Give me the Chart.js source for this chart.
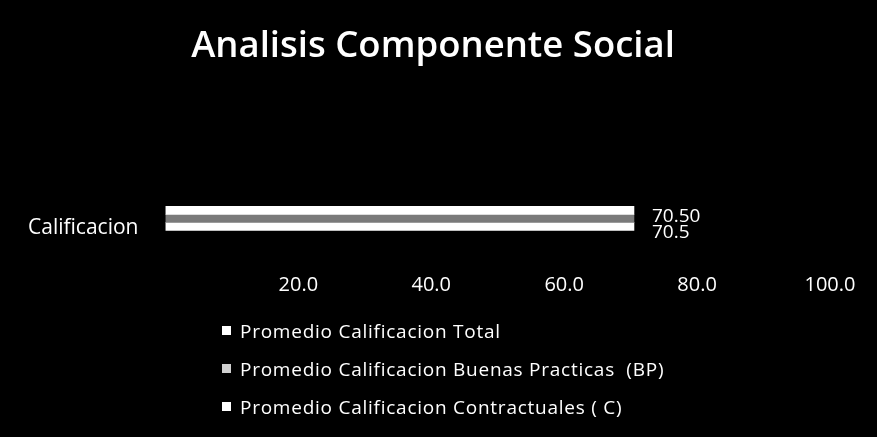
<!DOCTYPE html>
<html>
<head>
<meta charset="utf-8">
<script src="https://cdn.jsdelivr.net/npm/chart.js@4/dist/chart.umd.min.js"></script>
<style>
  html, body { margin: 0; padding: 0; background: #000; }
  #wrap { position: relative; width: 877px; height: 437px; background: #000; }
  #legend { position: absolute; left: 222px; top: 314px; font-family: 'Open Sans', sans-serif; font-size: 19px; letter-spacing: 0.75px; color: #fff; }
  #legend div { height: 38px; line-height: 34px; white-space: pre; }
  #legend span.box { display: inline-block; width: 9px; height: 9px; margin-right: 9px; vertical-align: 3px; }
</style>
</head>
<body>
<div id="wrap">
  <canvas id="chart" width="877" height="437"></canvas>
  <div id="legend"></div>
</div>
<script>
const categories = ['Calificacion']
const seriesNames = [
  'Promedio Calificacion Total',
  'Promedio Calificacion Buenas Practicas  (BP)',
  'Promedio Calificacion Contractuales ( C)'
]
const totalValues = [70.50]
const bpValues = [70.5]
const cValues = [70.5]
const valueLabels = ['70.50', '', '70.5']
const xTicks = [0, 20, 40, 60, 80, 100]

const barColors = ['#ffffff', '#7a7a7a', '#ffffff']
const legendColors = ['#ffffff', '#d0d0d0', '#ffffff']

// value text to the right of the bars
const barValues = {
  id: 'barValues',
  afterDatasetsDraw(chart) {
    const ctx = chart.ctx
    ctx.save()
    ctx.fillStyle = '#fff'
    ctx.font = '19px "Open Sans", sans-serif'
    ctx.textBaseline = 'middle'
    chart.data.datasets.forEach((ds, i) => {
      const meta = chart.getDatasetMeta(i)
      meta.data.forEach((bar) => {
        if (!valueLabels[i]) return
        ctx.fillText(valueLabels[i], bar.x + 18, bar.y + 6)
      })
    })
    ctx.restore()
  }
}

const datasets = [totalValues, bpValues, cValues].map((vals, i) => ({
  label: seriesNames[i],
  data: vals,
  backgroundColor: barColors[i],
  barThickness: 8
}))

new Chart(document.getElementById('chart'), {
  type: 'bar',
  data: { labels: categories, datasets },
  options: {
    indexAxis: 'y',
    responsive: false,
    animation: false,
    layout: { padding: { left: 1, right: 12, top: 0, bottom: 137 } },
    plugins: {
      legend: { display: false },
      tooltip: { enabled: false },
      title: {
        display: true,
        text: 'Analisis Componente Social',
        color: '#fff',
        font: { family: 'Open Sans', size: 36.5, weight: '600' },
        padding: { top: 25, bottom: 98 }
      }
    },
    scales: {
      x: {
        min: 0,
        max: 100,
        afterBuildTicks: (axis) => { axis.ticks = xTicks.map(v => ({ value: v })) },
        // keep the plot ending a bit left of the canvas edge
        afterFit: (axis) => { axis.paddingRight = 47 },
        grid: { display: false, drawTicks: false },
        border: { display: false },
        ticks: {
          color: '#fff',
          padding: 3,
          font: { family: 'Open Sans', size: 20 },
          callback: (v) => v === 0 ? '' : v.toFixed(1)
        }
      },
      y: {
        grid: { display: false, drawTicks: false },
        border: { display: false },
        ticks: {
          color: '#fff',
          padding: 27,
          labelOffset: 10,
          font: { family: 'Open Sans', size: 21 }
        }
      }
    }
  },
  plugins: [barValues]
})

const legendEl = document.getElementById('legend')
seriesNames.forEach((name, i) => {
  const row = document.createElement('div')
  const box = document.createElement('span')
  box.className = 'box'
  box.style.background = legendColors[i]
  row.appendChild(box)
  row.appendChild(document.createTextNode(name))
  legendEl.appendChild(row)
})
</script>
</body>
</html>
